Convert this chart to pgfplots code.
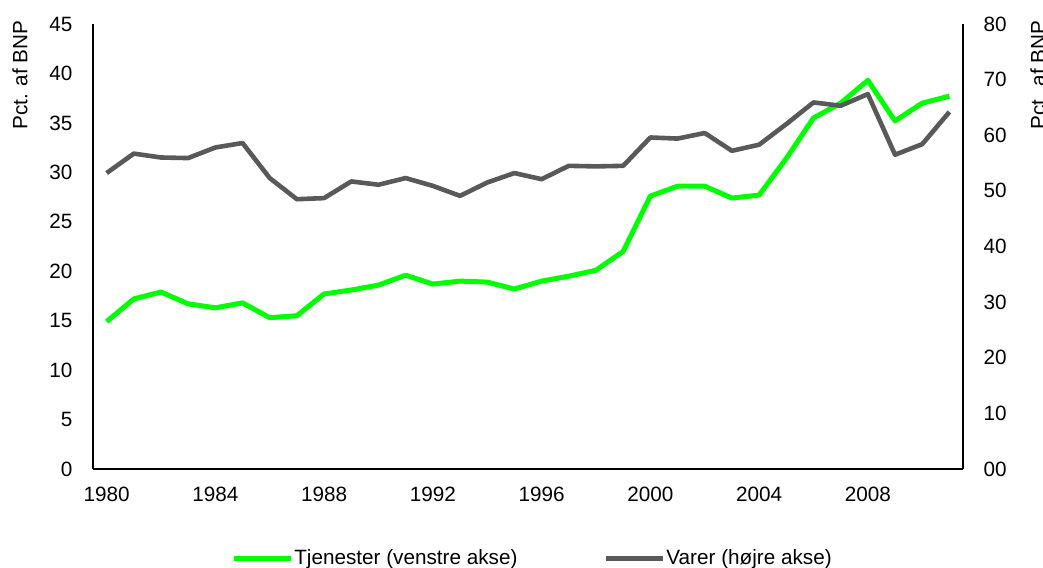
\documentclass[border=0pt]{standalone}
\usepackage{pgfplots}
\pgfplotsset{compat=1.18}
\usepackage{fontspec}
\setmainfont{Liberation Sans}
\definecolor{tjgreen}{HTML}{00FF00}
\definecolor{vargray}{HTML}{595959}
\pgfplotstableread{
year tj var
1980 14.9 53.2
1981 17.2 56.7
1982 17.9 56.0
1983 16.7 55.9
1984 16.3 57.8
1985 16.8 58.6
1986 15.3 52.3
1987 15.5 48.5
1988 17.7 48.7
1989 18.1 51.7
1990 18.6 51.1
1991 19.6 52.3
1992 18.7 50.9
1993 19.0 49.1
1994 18.9 51.5
1995 18.2 53.2
1996 19.0 52.1
1997 19.5 54.5
1998 20.1 54.4
1999 22.0 54.5
2000 27.6 59.6
2001 28.6 59.4
2002 28.6 60.4
2003 27.4 57.2
2004 27.7 58.3
2005 31.4 62.0
2006 35.5 65.9
2007 37.0 65.3
2008 39.3 67.4
2009 35.2 56.5
2010 37.0 58.4
2011 37.7 64.2
}\datatable
\begin{document}
\fontsize{10.35}{12}\selectfont
\begin{tikzpicture}
\path[use as bounding box] (0,0) rectangle (521.5pt,283.5pt);
\pgfplotsset{
  common/.style={
    at={(46.5pt,49pt)}, anchor=south west,
    scale only axis, width=435pt, height=222.5pt,
    xmin=1979.5, xmax=2011.5,
    major tick length=0pt,
    /pgf/number format/assume math mode=true,
    /pgf/number format/set thousands separator={},
    tick label style={font=\fontsize{10.35}{12}\selectfont},
    axis line style={black, line width=0.6pt},
  }
}
\begin{axis}[common,
  axis x line*=bottom, axis y line*=left,
  ymin=0, ymax=45, ytick={0,5,...,45},
  xtick={1980,1984,...,2008},
  yticklabel style={xshift=-6.6pt},
  xticklabel style={yshift=-5.6pt},
  legend style={at={(0.5063,-0.2022)}, anchor=center, draw=none, fill=none,
    font=\fontsize{10.35}{12}\selectfont, legend columns=2,
    /tikz/every even column/.append style={column sep=41pt},
    /tikz/every odd column/.append style={column sep=-1.5pt},
    inner sep=0pt, legend cell align=left},
  legend image code/.code={\draw[#1, line width=2.5pt] (0pt,0pt) -- (28.5pt,0pt);},
]
\addplot[tjgreen, line width=2.5pt, no markers, line join=round] table[x=year, y=tj] {\datatable};
\addlegendentry{Tjenester (venstre akse)}
\addlegendimage{vargray}
\addlegendentry{Varer (højre akse)}
\end{axis}
\begin{axis}[common,
  axis x line=none, axis y line*=right,
  ymin=0, ymax=80, ytick={0,10,...,80},
  yticklabels={00,10,20,30,40,50,60,70,80},
  yticklabel style={xshift=6.6pt},
]
\addplot[vargray, line width=2.3pt, no markers, line join=round] table[x=year, y=var] {\datatable};
\end{axis}
\node[rotate=90] at (10pt,246pt) {Pct. af BNP};
\node[rotate=90] at (519pt,246pt) {Pct. af BNP};
\end{tikzpicture}
\end{document}
